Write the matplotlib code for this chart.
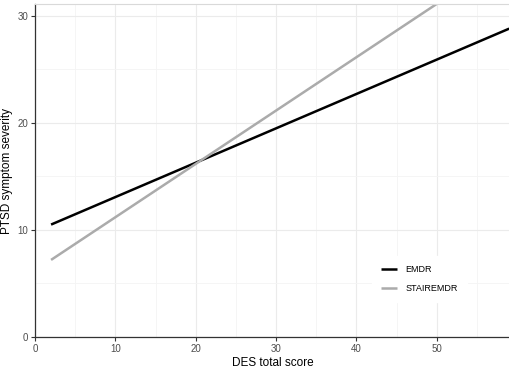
import matplotlib
matplotlib.use("Agg")
import matplotlib.pyplot as plt
from matplotlib.ticker import MultipleLocator

plt.rcParams['font.family'] = ['Liberation Sans', 'DejaVu Sans']

des = [2, 59]
emdr = [10.5, 28.8]
stair = [7.2, 35.6]
groups = ["EMDR", "STAIREMDR"]
colors = ["#000000", "#ABABAB"]

fig = plt.figure(figsize=(5.1, 3.7), dpi=100)
ax = fig.add_axes([35/510, 1-337/370, 1-35/510, (337-4)/370])

for ys, name, c in zip([emdr, stair], groups, colors):
    ax.plot(des, ys, color=c, lw=1.8, label=name, solid_capstyle="butt")

ax.set_xlim(0, 59.1)
ax.set_ylim(0, 31.1)
ax.xaxis.set_major_locator(MultipleLocator(10))
ax.xaxis.set_minor_locator(MultipleLocator(5))
ax.yaxis.set_major_locator(MultipleLocator(10))
ax.yaxis.set_minor_locator(MultipleLocator(5))
ax.grid(True, which="major", color="#EBEBEB", lw=0.8)
ax.grid(True, which="minor", color="#F4F4F4", lw=0.6)
ax.set_axisbelow(True)
ax.tick_params(which="major", direction="out", length=3, color="#333333",
               labelsize=7, labelcolor="#4D4D4D", width=0.8, pad=2)
ax.tick_params(which="minor", length=0)
for s in ["left", "bottom"]:
    ax.spines[s].set_color("#333333")
    ax.spines[s].set_linewidth(0.9)
ax.spines["top"].set_color("#D9D9D9")
ax.spines["top"].set_linewidth(0.8)
ax.spines["right"].set_visible(False)

ax.set_xlabel("DES total score", fontsize=8.5, labelpad=2)
ax.set_ylabel("PTSD symptom severity", fontsize=8.5, labelpad=3)

leg = ax.legend(loc="center left", bbox_to_anchor=(0.70, 0.174), frameon=True,
                fontsize=6.5, handlelength=1.8, borderpad=1.0, labelspacing=1.1,
                handletextpad=0.9)
leg.get_frame().set_edgecolor("white")
leg.get_frame().set_facecolor("white")
leg.get_frame().set_alpha(1)

fig.savefig("out.png", dpi=100)
